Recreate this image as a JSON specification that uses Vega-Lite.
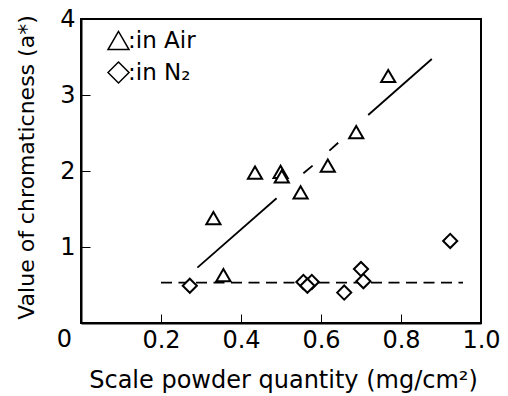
{
  "$schema": "https://vega.github.io/schema/vega-lite/v6.json",
  "width": 400,
  "height": 304,
  "autosize": {"type": "none"},
  "padding": {"left": 81, "top": 19, "right": 27, "bottom": 73},
  "background": "white",
  "config": {
    "view": {"stroke": "black", "strokeWidth": 2},
    "font": "DejaVu Sans",
    "axis": {
      "grid": false,
      "domainColor": "black",
      "domainWidth": 2,
      "labelColor": "black",
      "titleColor": "black",
      "labelFont": "DejaVu Sans",
      "titleFont": "DejaVu Sans",
      "labelFontWeight": "normal",
      "titleFontWeight": "normal",
      "labelOverlap": false,
      "labelFlush": false
    }
  },
  "datasets": {
    "pts": [
      {"q": 0.331, "a": 1.38, "atm": "Air"},
      {"q": 0.356, "a": 0.63, "atm": "Air"},
      {"q": 0.435, "a": 1.98, "atm": "Air"},
      {"q": 0.499, "a": 1.99, "atm": "Air"},
      {"q": 0.502, "a": 1.93, "atm": "Air"},
      {"q": 0.549, "a": 1.72, "atm": "Air"},
      {"q": 0.617, "a": 2.07, "atm": "Air"},
      {"q": 0.688, "a": 2.51, "atm": "Air"},
      {"q": 0.768, "a": 3.25, "atm": "Air"},
      {"q": 0.272, "a": 0.49, "atm": "N2"},
      {"q": 0.556, "a": 0.54, "atm": "N2"},
      {"q": 0.577, "a": 0.54, "atm": "N2"},
      {"q": 0.566, "a": 0.49, "atm": "N2"},
      {"q": 0.658, "a": 0.40, "atm": "N2"},
      {"q": 0.700, "a": 0.71, "atm": "N2"},
      {"q": 0.706, "a": 0.55, "atm": "N2"},
      {"q": 0.923, "a": 1.08, "atm": "N2"}
    ],
    "airfit": [
      {"q": 0.291, "a": 0.728, "seg": 1},
      {"q": 0.489, "a": 1.641, "seg": 1},
      {"q": 0.556, "a": 1.970, "seg": 2},
      {"q": 0.579, "a": 2.070, "seg": 2},
      {"q": 0.621, "a": 2.267, "seg": 3},
      {"q": 0.643, "a": 2.372, "seg": 3},
      {"q": 0.718, "a": 2.737, "seg": 4},
      {"q": 0.877, "a": 3.474, "seg": 4}
    ],
    "n2fit": [
      {"q": 0.2, "a": 0.53},
      {"q": 0.955, "a": 0.53}
    ],
    "origin": [
      {"q": 0, "a": 0, "t": "0"}
    ]
  },
  "layer": [
    {
      "data": {"name": "airfit"},
      "mark": {"type": "line", "color": "black", "strokeWidth": 1.8},
      "encoding": {
        "x": {"field": "q", "type": "quantitative"},
        "y": {"field": "a", "type": "quantitative"},
        "detail": {"field": "seg", "type": "nominal"}
      }
    },
    {
      "data": {"name": "n2fit"},
      "mark": {"type": "line", "color": "black", "strokeWidth": 1.8, "strokeDash": [11, 6.5]},
      "encoding": {
        "x": {"field": "q", "type": "quantitative"},
        "y": {"field": "a", "type": "quantitative"}
      }
    },
    {
      "data": {"name": "origin"},
      "mark": {"type": "text", "align": "right", "baseline": "middle", "dx": -9, "dy": 17, "fontSize": 24, "font": "DejaVu Sans", "color": "black", "clip": false},
      "encoding": {
        "x": {"field": "q", "type": "quantitative"},
        "y": {"field": "a", "type": "quantitative"},
        "text": {"field": "t"}
      }
    },
    {
      "data": {"name": "pts"},
      "mark": {"type": "point", "filled": false, "fill": "white", "fillOpacity": 1, "stroke": "black", "strokeWidth": 2, "opacity": 1, "size": 200},
      "encoding": {
        "x": {
          "field": "q", "type": "quantitative",
          "scale": {"domain": [0, 1], "nice": false, "zero": false},
          "axis": {
            "values": [0, 0.1, 0.2, 0.3, 0.4, 0.5, 0.6, 0.7, 0.8, 0.9, 1.0],
            "labelExpr": "datum.value === 0 ? '' : (round(datum.value * 10) % 2 === 0 ? format(datum.value, '.1f') : '')",
            "tickColor": "#000",
            "tickSize": -9,
            "labelPadding": 14.5,
            "labelFontSize": 24,
            "title": "Scale powder quantity (mg/cm²)",
            "titleFontSize": 24,
            "titleX": 202,
            "titleY": 64,
            "titleAlign": "center",
            "titleBaseline": "alphabetic"
          }
        },
        "y": {
          "field": "a", "type": "quantitative",
          "scale": {"domain": [0, 4], "nice": false, "zero": false},
          "axis": {
            "values": [0, 0.5, 1, 1.5, 2, 2.5, 3, 3.5, 4],
            "labelExpr": "datum.value % 1 === 0 && datum.value > 0 ? format(datum.value, 'd') : ''",
            "tickColor": "#000",
            "tickSize": -9,
            "labelPadding": 15,
            "labelFontSize": 24,
            "title": "Value of chromaticness (a*)",
            "titleFontSize": 22,
            "titleAngle": 270,
            "titleX": -48,
            "titleY": 148,
            "titleAlign": "center",
            "titleBaseline": "alphabetic"
          }
        },
        "shape": {
          "field": "atm", "type": "nominal",
          "scale": {"domain": ["Air", "N2"], "range": ["triangle-up", "diamond"]},
          "legend": {
            "orient": "none",
            "legendX": 26,
            "legendY": 10,
            "title": null,
            "symbolSize": 441,
            "labelFontSize": 23,
            "labelColor": "black",
            "labelOffset": -2,
            "rowPadding": 6,
            "labelExpr": "datum.label === 'Air' ? ':in Air' : ':in N₂'"
          }
        }
      }
    }
  ]
}
